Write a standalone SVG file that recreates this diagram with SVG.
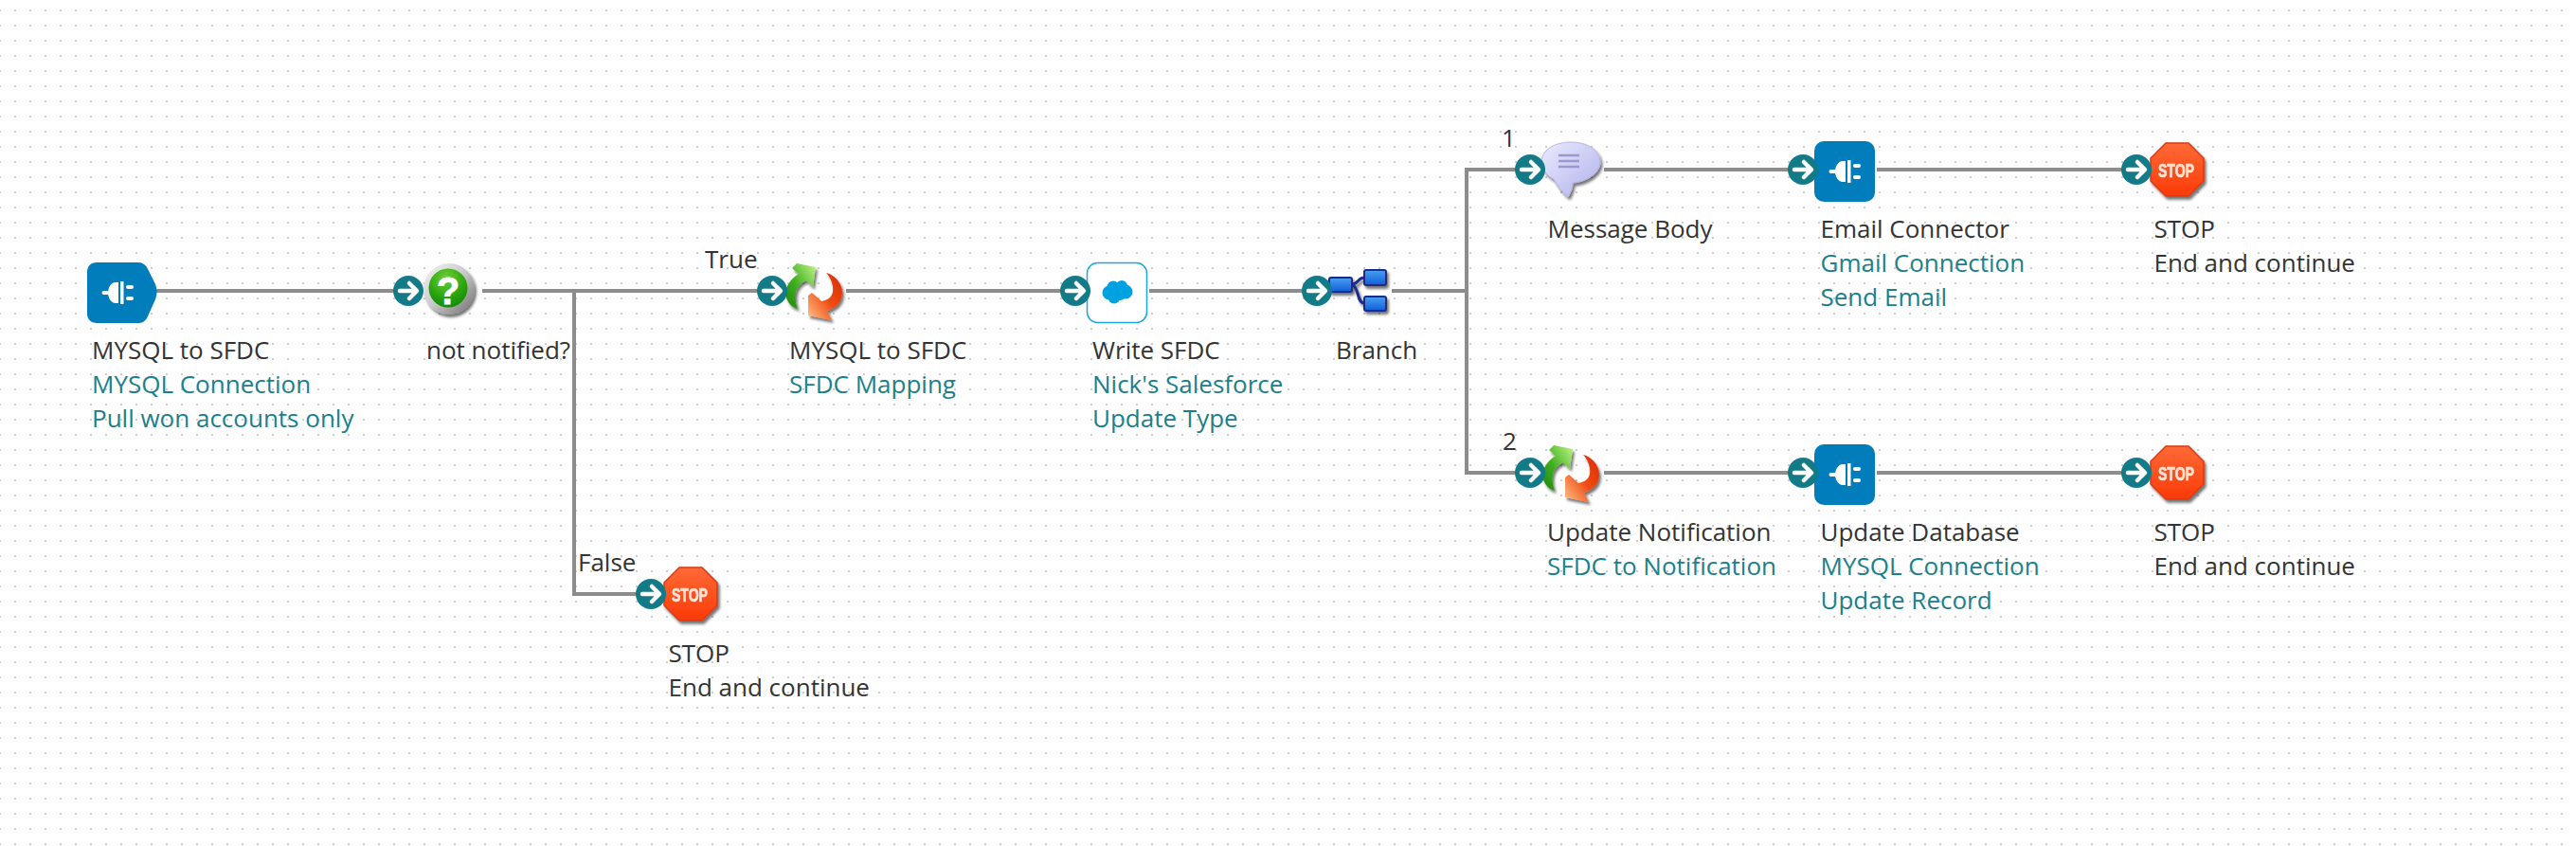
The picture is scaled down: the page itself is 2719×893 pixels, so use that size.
<svg xmlns="http://www.w3.org/2000/svg" width="2719" height="893" viewBox="0 0 2719 893">
<style>
text{font-family:"Open Sans","Noto Sans","DejaVu Sans",sans-serif;font-size:26px}
.t{fill:#333}.l{fill:#1a808c}
.c{fill:none;stroke:#8c8c8c;stroke-width:4}
.pb{fill:#137b87}.pa{fill:none;stroke:#fff;stroke-width:4.5;stroke-linecap:round;stroke-linejoin:round}
.blue{fill:#007dba}.w{fill:#fff}
.br{fill:url(#gBr);stroke:#1a2a8a;stroke-width:2}
</style>
<defs>
<pattern id="grid" width="16" height="16" patternUnits="userSpaceOnUse" x="-1" y="10"><rect width="2" height="2" fill="#cccccc"/></pattern>
<filter id="sh" x="-20%" y="-20%" width="150%" height="150%"><feGaussianBlur in="SourceAlpha" stdDeviation="1.500"/><feOffset dx="1.500" dy="2.500"/><feComponentTransfer><feFuncA type="linear" slope=".55"/></feComponentTransfer><feMerge><feMergeNode/><feMergeNode in="SourceGraphic"/></feMerge></filter>
<radialGradient id="gBall" cx=".45" cy=".25" r=".75"><stop offset="0" stop-color="#6fcf36"/><stop offset=".6" stop-color="#2ea812"/><stop offset="1" stop-color="#128a05"/></radialGradient>
<linearGradient id="gRing" x1="0" y1="0" x2="1" y2="1"><stop offset="0" stop-color="#f6f6f6"/><stop offset=".5" stop-color="#c8c8c8"/><stop offset="1" stop-color="#6e6e6e"/></linearGradient>
<linearGradient id="gGreen" x1="0" y1="1" x2="1" y2="0"><stop offset="0" stop-color="#1c8210"/><stop offset=".45" stop-color="#40b020"/><stop offset="1" stop-color="#c2f58a"/></linearGradient>
<linearGradient id="gRed" x1="1" y1="0" x2="0" y2="1"><stop offset="0" stop-color="#d82a04"/><stop offset=".5" stop-color="#f04c14"/><stop offset="1" stop-color="#ffc48a"/></linearGradient>
<linearGradient id="gStop" x1="0" y1="0" x2="0" y2="1"><stop offset="0" stop-color="#ff6a36"/><stop offset="1" stop-color="#fb3a08"/></linearGradient>
<linearGradient id="gBub" x1="0" y1="0" x2="1" y2="1"><stop offset="0" stop-color="#ebebff"/><stop offset="1" stop-color="#b0b0ec"/></linearGradient>
<linearGradient id="gBr" x1="0" y1="0" x2="0" y2="1"><stop offset="0" stop-color="#4aa0f2"/><stop offset="1" stop-color="#0f5fd8"/></linearGradient>
<g id="port"><circle r="16" class="pb"/><path class="pa" d="M-9,0H8M1,-8L9,0L1,8"/></g>
<g id="plug" class="w"><rect x="-16.500" y="-2" width="8" height="4" rx="2"/><path d="M1,-11H-2C-7,-11-10,-5-10,0C-10,5-7,11-2,11H1Z"/><rect x="3" y="-12" width="3.500" height="24"/><rect x="9" y="-8" width="8" height="4" rx="2"/><rect x="9" y="4" width="8" height="4" rx="2"/></g>
<g id="box"><rect width="64" height="64" rx="10" class="blue"/><use href="#plug" x="32" y="32"/></g>
<g id="map" filter="url(#sh)"><path fill="url(#gGreen)" d="M13,49C6,47 1,41 0,33C0,25 6,17 14,12L7,6L12,1L32,5L29,26L22,19C16,22 12,26 11,32C10,38 11,44 13,49Z"/><path fill="url(#gRed)" d="M43,11C52,13 60,22 60,32C60,41 54,48 44,51L49,61L24,56V35L28,32L38,41C44,40 49,37 50,31C51,24 48,16 43,11Z"/></g>
<g id="stop" filter="url(#sh)"><path fill="url(#gStop)" stroke="#d83a12" stroke-width="1.500" d="M-12,-28H12L28,-12V12L12,28H-12L-28,12V-12Z"/><text x="-1" y="7.500" text-anchor="middle" textLength="38" lengthAdjust="spacingAndGlyphs" style="font-family:'Liberation Sans',sans-serif;font-size:20.500px;font-weight:700;fill:#ffe6da;stroke:#ffe6da;stroke-width:.7">STOP</text></g>
</defs>
<rect width="2719" height="893" fill="#fff"/>
<rect width="2719" height="893" fill="url(#grid)"/>
<g id="connectors">
<path class="c" d="M165,307H431"/>
<path class="c" d="M509,307H815"/>
<path class="c" d="M606,307V627H687"/>
<path class="c" d="M893,307H1135"/>
<path class="c" d="M1213,307H1390"/>
<path class="c" d="M1469,307H1548"/>
<path class="c" d="M1615,179H1548V499H1615"/>
<path class="c" d="M1693,179H1903"/>
<path class="c" d="M1981,179H2255"/>
<path class="c" d="M1693,499H1903"/>
<path class="c" d="M1981,499H2255"/>
</g>
<g id="edge-labels" class="t">
<text x="744" y="283">True</text>
<text x="610" y="603">False</text>
<text x="1585" y="155">1</text>
<text x="1586" y="475">2</text>
</g>
<g id="node-start">
<path class="blue" d="M102,277H146C150,277 153,279 155,282L164,300C166,305 166,311 164,316L155,336C153,339 150,341 146,341H102C96,341 92,337 92,331V287C92,281 96,277 102,277Z"/>
<use href="#plug" x="124" y="309"/>
<text class="t" x="97" y="379">MYSQL to SFDC</text>
<text class="l" x="97" y="415">MYSQL Connection</text>
<text class="l" x="97" y="451">Pull won accounts only</text>
</g>
<g id="node-decision">
<g filter="url(#sh)"><circle cx="474" cy="305" r="27" fill="url(#gRing)"/><circle cx="473" cy="304" r="20.500" fill="url(#gBall)"/></g>
<text x="473" y="321" text-anchor="middle" style="font-family:'Liberation Sans',sans-serif;font-size:40px;font-weight:700;fill:#fff;stroke:#fff;stroke-width:.8">?</text>
<use href="#port" x="431" y="307"/>
<text class="t" x="450" y="379">not notified?</text>
</g>
<g id="node-map1">
<use href="#map" x="829" y="277"/>
<use href="#port" x="815" y="307"/>
<text class="t" x="833" y="379">MYSQL to SFDC</text>
<text class="l" x="833" y="415">SFDC Mapping</text>
</g>
<g id="node-write">
<rect x="1147.500" y="277.500" width="63" height="63" rx="11" fill="#fff" stroke="#1ba8e0" stroke-width="1.500"/>
<g fill="#00a1e0"><circle cx="1171" cy="309" r="7.500"/><circle cx="1175" cy="303" r="6.500"/><circle cx="1184" cy="302" r="6"/><circle cx="1188" cy="308" r="7.500"/><circle cx="1176" cy="314" r="6.500"/><circle cx="1182" cy="310" r="7"/></g>
<use href="#port" x="1135" y="307"/>
<text class="t" x="1153" y="379">Write SFDC</text>
<text class="l" x="1153" y="415">Nick's Salesforce</text>
<text class="l" x="1153" y="451">Update Type</text>
</g>
<g id="node-branch">
<g filter="url(#sh)"><path fill="none" stroke="#1a2a8a" stroke-width="3" d="M1427,300C1434,300 1433,293 1440,293M1427,300C1435,304 1432,320 1440,320"/>
<rect class="br" x="1403" y="293" width="24" height="15" rx="2"/>
<rect class="br" x="1440" y="285" width="23" height="16" rx="2"/>
<rect class="br" x="1440" y="313" width="23" height="15" rx="2"/></g>
<use href="#port" x="1390" y="307"/>
<text class="t" x="1410" y="379">Branch</text>
</g>
<g id="node-message">
<path filter="url(#sh)" fill="url(#gBub)" stroke="#b4b4e0" d="M1658,150C1676,150 1689,159 1689,171C1689,183 1674,192 1660,193C1660,198 1658,203 1655,208C1649,203 1644,196 1640,189C1632,185 1627,178 1627,171C1627,159 1640,150 1658,150Z"/>
<path fill="none" stroke="#9a98cc" stroke-width="2.500" d="M1645,164H1667M1645,170H1667M1645,176H1667"/>
<use href="#port" x="1615" y="179"/>
<text class="t" x="1633.500" y="251">Message Body</text>
</g>
<g id="node-email">
<use href="#box" x="1915" y="149"/>
<use href="#port" x="1903" y="179"/>
<text class="t" x="1921.500" y="251">Email Connector</text>
<text class="l" x="1921.500" y="287">Gmail Connection</text>
<text class="l" x="1921.500" y="323">Send Email</text>
</g>
<g id="node-stop1">
<use href="#stop" x="2298" y="179"/>
<use href="#port" x="2255" y="179"/>
<text class="t" x="2273.500" y="251">STOP</text>
<text class="t" x="2273.500" y="287">End and continue</text>
</g>
<g id="node-map2">
<use href="#map" x="1628" y="469"/>
<use href="#port" x="1615" y="499"/>
<text class="t" x="1633" y="571">Update Notification</text>
<text class="l" x="1633" y="607">SFDC to Notification</text>
</g>
<g id="node-updatedb">
<use href="#box" x="1915" y="469"/>
<use href="#port" x="1903" y="499"/>
<text class="t" x="1921.500" y="571">Update Database</text>
<text class="l" x="1921.500" y="607">MYSQL Connection</text>
<text class="l" x="1921.500" y="643">Update Record</text>
</g>
<g id="node-stop2">
<use href="#stop" x="2298" y="499"/>
<use href="#port" x="2255" y="499"/>
<text class="t" x="2273.500" y="571">STOP</text>
<text class="t" x="2273.500" y="607">End and continue</text>
</g>
<g id="node-stop3">
<use href="#stop" x="729" y="627"/>
<use href="#port" x="687" y="627"/>
<text class="t" x="705.500" y="699">STOP</text>
<text class="t" x="705.500" y="735">End and continue</text>
</g>
</svg>
